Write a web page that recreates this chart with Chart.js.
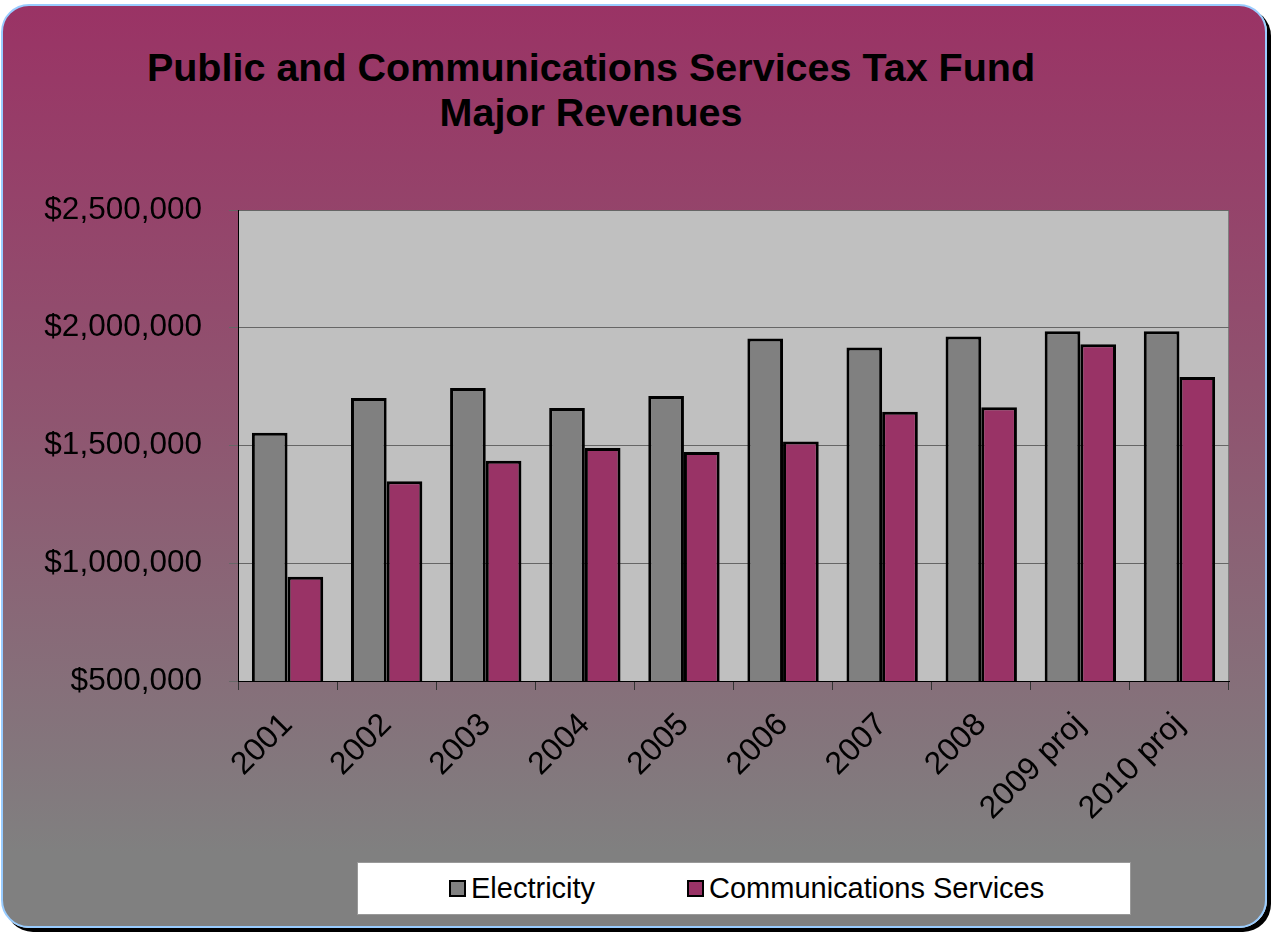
<!DOCTYPE html>
<html>
<head>
<meta charset="utf-8">
<script src="https://cdn.jsdelivr.net/npm/chart.js@4.4.1/dist/chart.umd.min.js"></script>
<style>
  html, body { margin:0; padding:0; background:#fff; }
  #wrap { position:relative; width:1272px; height:932px; overflow:hidden; font-family:"Liberation Sans", Arial, sans-serif; }
  #card {
    position:absolute; left:1px; top:4px; width:1262px; height:920px;
    border:2px solid #99ccff; border-radius:28px;
    background:linear-gradient(to bottom, #9a3365 0%, #8f5570 45%, #808080 92%);
    box-shadow:4px 4px 0 #000;
  }
  #title {
    position:absolute; left:0; top:45px; width:1182px; text-align:center;
    font-weight:bold; font-size:39.5px; line-height:45px; color:#000;
  }
  #chart { position:absolute; left:0; top:0; }
  #legend {
    position:absolute; left:357px; top:862px; width:772px; height:51px;
    background:#fff; border:1px solid #999;
    font-size:29px; color:#000;
  }
  .item { position:absolute; display:flex; align-items:center; top:0; height:51px; }
  .box { width:13px; height:13px; border:2px solid #000; margin-right:5px; }
</style>
</head>
<body>
<div id="wrap">
  <div id="card"></div>
  <div id="title">Public and Communications Services Tax Fund<br>Major Revenues</div>
  <canvas id="chart" width="1272" height="932"></canvas>
  <div id="legend"></div>
</div>
<script>
const years = ["2001","2002","2003","2004","2005","2006","2007","2008","2009 proj","2010 proj"];
const electricity = [1554000,1702000,1744000,1659000,1710000,1954000,1916000,1963000,1985000,1985000];
const communications = [943000,1348000,1435000,1489000,1472000,1517000,1643000,1662000,1930000,1791000];
const seriesNames = ["Electricity","Communications Services"];
const seriesColors = ["#808080","#993366"];
const yTicks = [500000,1000000,1500000,2000000,2500000];

const FONT = "'Liberation Sans', Arial, sans-serif";

// grey plot background with a thin grey frame on top/right
const plotBg = {
    id: "plotBg",
    beforeDraw(chart) {
        const a = chart.chartArea, ctx = chart.ctx;
        ctx.save();
        ctx.fillStyle = "#c0c0c0";
        ctx.fillRect(a.left, a.top, a.right - a.left, a.bottom - a.top);
        ctx.strokeStyle = "#808080";
        ctx.lineWidth = 1;
        ctx.beginPath();
        ctx.moveTo(a.left, a.top + 0.5);
        ctx.lineTo(a.right - 0.5, a.top + 0.5);
        ctx.lineTo(a.right - 0.5, a.bottom);
        ctx.stroke();
        ctx.restore();
    }
};

const chart = new Chart(document.getElementById("chart"), {
    type: "bar",
    data: {
        labels: years,
        datasets: [
            { label: seriesNames[0], data: electricity, backgroundColor: seriesColors[0] },
            { label: seriesNames[1], data: communications, backgroundColor: seriesColors[1] }
        ].map(d => Object.assign(d, {
            borderColor: "#000", borderWidth: 3, borderSkipped: false,
            categoryPercentage: 0.72, barPercentage: 1.0
        }))
    },
    options: {
        responsive: false,
        animation: false,
        layout: { padding: { left: 0, right: 43, top: 210, bottom: 0 } },
        plugins: { legend: { display: false }, title: { display: false }, tooltip: { enabled: false } },
        scales: {
            x: {
                grid: { offset: true, drawOnChartArea: false, drawTicks: true, tickLength: 9, color: "#333" },
                border: { color: "#000", width: 1 },
                ticks: {
                    color: "#000", font: { family: FONT, size: 32 },
                    minRotation: 45, maxRotation: 45, padding: 16, autoSkip: false
                },
                afterFit(s) { s.height = 251; }
            },
            y: {
                min: 500000, max: 2500000,
                afterBuildTicks(s) { s.ticks = yTicks.map(v => ({ value: v })); },
                grid: { color: "#666", lineWidth: 1, tickLength: 9 },
                border: { color: "#000", width: 1 },
                ticks: {
                    color: "#000", font: { family: FONT, size: 31.5 }, padding: 27,
                    callback: v => "$" + v.toLocaleString("en-US")
                },
                afterFit(s) { s.width = 238; }
            }
        }
    },
    plugins: [plotBg]
});

// legend built from the datasets
const legend = document.getElementById("legend");
const itemX = [91, 329];
chart.data.datasets.forEach((ds, i) => {
    const it = document.createElement("div");
    it.className = "item";
    it.style.left = itemX[i] + "px";
    it.innerHTML = `<span class="box" style="background:${ds.backgroundColor}"></span><span>${ds.label}</span>`;
    legend.appendChild(it);
});
</script>
</body>
</html>
